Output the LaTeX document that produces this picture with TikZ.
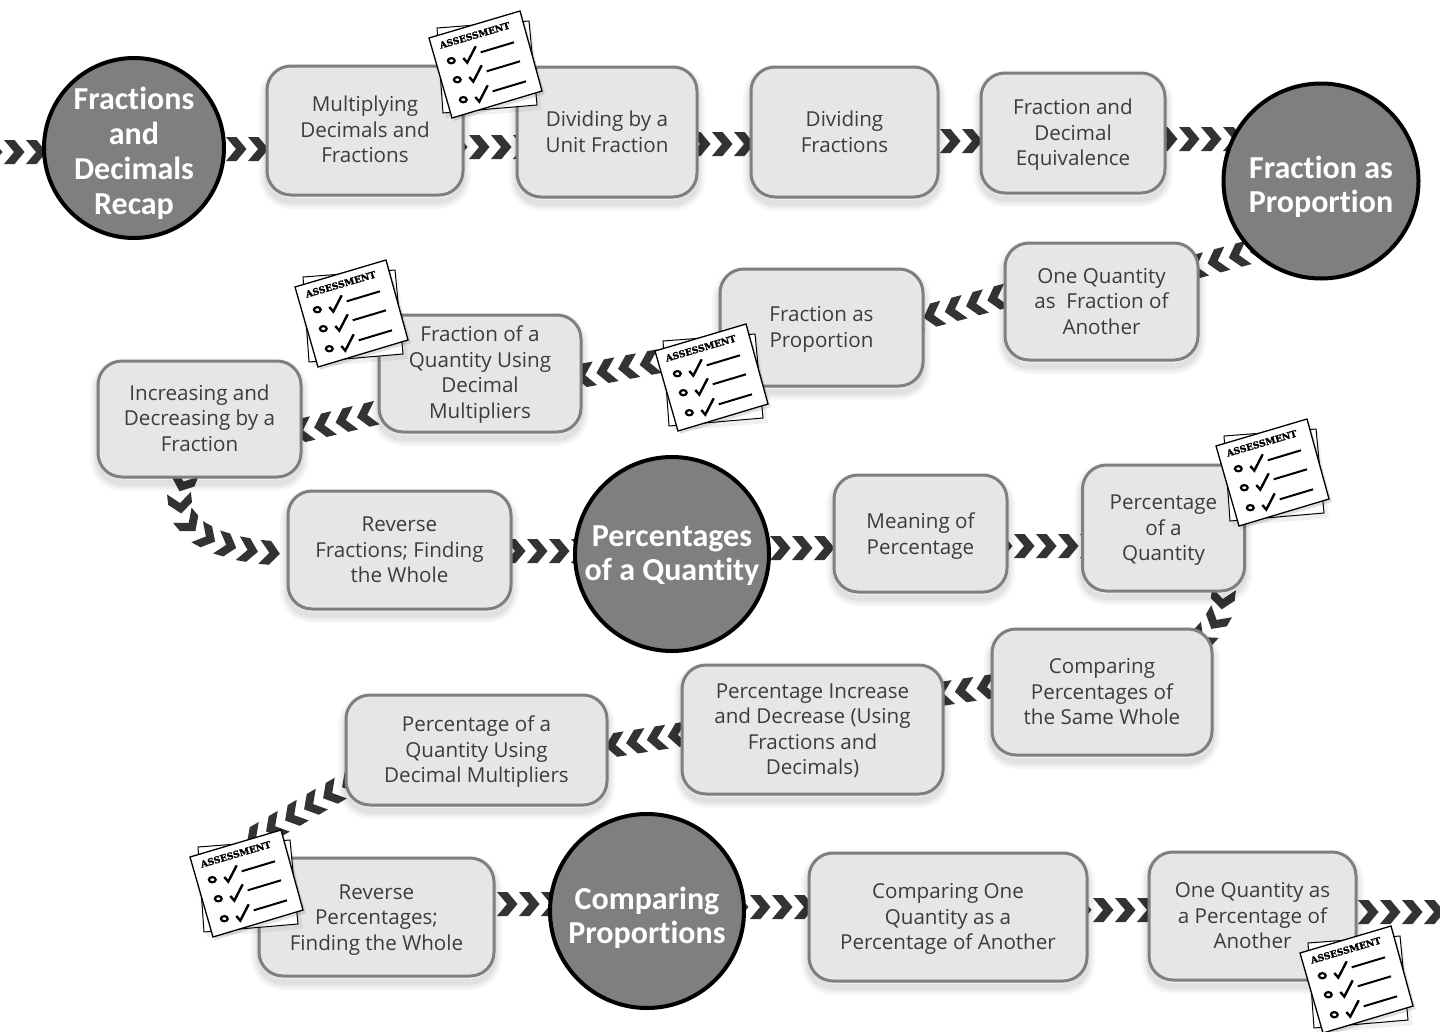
\documentclass[tikz,border=0pt]{standalone}
\usepackage{fontspec}
\setmainfont{Open Sans}
\newfontfamily\titlefont{Carlito}[Ligatures=NoCommon]
\newfontfamily\stampfont{DejaVu Serif}[FakeBold=1.6]
\usetikzlibrary{backgrounds,decorations.markings}
\definecolor{boxfill}{HTML}{E6E6E6}
\definecolor{boxline}{HTML}{7F7F7F}
\definecolor{chevcol}{HTML}{333333}
\definecolor{txt}{HTML}{3C3C3C}
\newcommand{\dn}[1]{\rule{0pt}{\dimexpr 16pt+#1pt\relax}}
\newcommand{\dnt}[1]{\rule{0pt}{\dimexpr 21pt+#1pt\relax}}
\newcommand{\upr}{\rule[-2.5pt]{0pt}{2.5pt}}
\tikzset{
  x=1pt,y=-1pt,
  softshadow/.style={
    preaction={draw=black,draw opacity=.03,line width=16pt,transform canvas={yshift=-6pt}},
    preaction={draw=black,draw opacity=.04,line width=11pt,transform canvas={yshift=-6pt}},
    preaction={draw=black,draw opacity=.05,line width=6pt,transform canvas={yshift=-6pt}}},
  topic/.style={draw=boxline,fill=boxfill,line width=3pt,rounded corners=24pt,inner sep=0pt,outer sep=0pt,
    align=center,text=txt,font=\fontsize{20.6}{25.5}\selectfont,softshadow},
  unit/.style={circle,draw=black,fill=boxline,line width=4pt,inner sep=-14pt,outer sep=0pt,align=center,
    text=white,font=\titlefont\bfseries\fontsize{32}{34.8}\selectfont},
  chev/.style 2 args={decoration={markings,mark=between positions #1pt and 1 step #2pt with {
     \fill[chevcol] (-10pt,-12pt)--(0.5pt,-12pt)--(10.5pt,0pt)--(0.5pt,12pt)--(-10pt,12pt)--(0pt,0pt)--cycle;}},
     postaction={decorate}},
  assess/.pic={
    \fill[black,opacity=.06] (2,1)--(102,-14)--(113,72)--(17,80)--cycle;
    \filldraw[fill=white,draw=black,line width=1pt] (8,-10)--(100,-17)--(108,67)--(14,75)--cycle;
    \fill[black,opacity=.12] (2,3)--(93,-24)--(116,56)--(25,83)--cycle;
    \filldraw[fill=white,draw=black,line width=1.3pt] (0,0)--(91,-27)--(113,53)--(23,80)--cycle;
    \node[rotate=16.3,inner sep=0pt,font=\stampfont\bfseries\fontsize{9.2}{10}\selectfont] (-stamp) at (45.7,-2.7) {ASSESSMENT};
    \foreach \dx/\dy in {0/0,6/19,12/39}{
      \begin{scope}[shift={(\dx,\dy)}]
        \draw[black,line width=2.2pt] (22.3,22.7) ellipse (3.4 and 2.6);
        \draw[black,line width=2.4pt,line join=miter] (34.3,20)--(38.3,24.6)--(46.7,8.3);
        \draw[black,line width=2pt] (51.7,14.3)--(85,4.3);
      \end{scope}}
  }
}
\begin{document}
\begin{tikzpicture}
\useasboundingbox (0,0) rectangle (1440,1031);
\coordinate (startpt) at (-30,152);
\coordinate (endpt) at (1455,912);

\node[unit,minimum size=180] (c1) at (134,148) {\dnt{12}Fractions\\and\\Decimals\\Recap};
\node[topic,minimum width=196,minimum height=129] (b2) at (365,130.5) {Multiplying\\Decimals and\\Fractions\upr};
\node[topic,minimum width=180,minimum height=130] (b3) at (607,132) {Dividing by a\\Unit Fraction};
\node[topic,minimum width=187,minimum height=130] (b4) at (844.5,132) {Dividing\\Fractions};
\node[topic,minimum width=184,minimum height=120] (b5) at (1073,133) {\dn{3}Fraction and\\Decimal\\Equivalence};
\node[unit,minimum size=195] (c2) at (1321,181) {\dnt{13}Fraction as\\Proportion};
\node[topic,minimum width=193,minimum height=117] (b6) at (1101.5,301.5) {One Quantity\\as\ \ Fraction of\\Another};
\node[topic,minimum width=203,minimum height=117] (b7) at (821.5,327.5) {\dn{3}Fraction as\\Proportion};
\node[topic,minimum width=202,minimum height=117] (b8) at (480,373.5) {\dn{2}Fraction of a\\Quantity Using\\Decimal\\Multipliers};
\node[topic,minimum width=203,minimum height=116] (b9) at (199.5,419) {Increasing and\\Decreasing by a\\Fraction\upr};
\node[topic,minimum width=223,minimum height=118] (b10) at (399.5,550) {Reverse\\Fractions; Finding\\the Whole};
\node[unit,minimum size=194] (c3) at (672,554) {\dnt{3}Percentages\\of a Quantity};
\node[topic,minimum width=173,minimum height=117] (b11) at (920.5,533.5) {\dn{5}Meaning of\\Percentage};
\node[topic,minimum width=162,minimum height=126] (b12) at (1163.5,528) {\dn{3}Percentage\\of a\\Quantity};
\node[topic,minimum width=220,minimum height=126] (b13) at (1102,692) {Comparing\\Percentages of\\the Same Whole};
\node[topic,minimum width=261,minimum height=129] (b14) at (812.5,729.5) {\dn{1}Percentage Increase\\and Decrease (Using\\Fractions and\\Decimals)};
\node[topic,minimum width=261,minimum height=110] (b15) at (476.5,750) {\dn{3}Percentage of a\\Quantity Using\\Decimal Multipliers};
\node[topic,minimum width=235,minimum height=118] (b16) at (376.5,917) {\dn{4}Reverse\\Percentages;\\Finding the Whole};
\node[unit,minimum size=194] (c4) at (647,911) {\dnt{15}Comparing\\Proportions};
\node[topic,minimum width=278,minimum height=128] (b17) at (948,917) {\dn{3}Comparing One\\Quantity as a\\Percentage of Another};
\node[topic,minimum width=207,minimum height=128] (b18) at (1252.5,916) {One Quantity as\\a Percentage of\\Another};

\begin{scope}[on background layer]
\path[chev={0}{22}] (startpt) -- ([yshift=-4pt]c1.center);
\path[chev={14}{22}] ([yshift=-1pt]c1.center) -- ([yshift=-18.5pt]b2.center);
\path[chev={4}{22}] ([yshift=-16.5pt]b2.center) -- ([yshift=-15pt]b3.center);
\path[chev={5}{22}] ([yshift=-12pt]b3.center) -- ([yshift=-12pt]b4.center);
\path[chev={17.5}{22}] ([yshift=-9pt]b4.center) -- ([yshift=-8pt]b5.center);
\path[chev={6}{22}] ([yshift=-6pt]b5.center) -- ([yshift=42pt]c2.center);
\path[chev={19}{22}] ([yshift=-52pt]c2.center) -- ([yshift=9.5pt]b6.center);
\path[chev={19.7}{22}] ([yshift=31.5pt]b6.center) -- ([yshift=-17.5pt]b7.center);
\path[chev={20.6}{22}] ([yshift=-3pt]b7.center) -- ([yshift=-21.5pt]b8.center);
\path[chev={6}{22}] ([yshift=-14.5pt]b8.center) -- ([yshift=-36pt]b9.center);
\path[chev={5}{22}] ([xshift=-14pt]b9.south) .. controls (168,512) and (188,550) .. ([yshift=-4pt]b10.west);
\path[chev={5.5}{22}] ([yshift=-1pt]b10.center) -- ([yshift=3pt]c3.center);
\path[chev={20}{22}] ([yshift=6pt]c3.center) -- ([yshift=-14.5pt]b11.center);
\path[chev={15.5}{22}] ([yshift=-12.5pt]b11.center) -- ([yshift=-18pt]b12.center);
\path[chev={15}{22}] ([xshift=60.5pt,yshift=7pt]b12.south) .. controls (1222,615) and (1222,618) .. ([xshift=88pt,yshift=-22pt]b13.north);
\path[chev={6.3}{22}] ([yshift=22pt]b13.center) -- ([yshift=16.5pt]b14.center);
\path[chev={10.3}{21}] ([yshift=16pt]b14.center) -- ([yshift=-17pt]b15.center);
\path[chev={13}{22}] ([yshift=41pt]b15.center) -- ([xshift=-121.5pt,yshift=79pt]b16.center);
\path[chev={20.5}{22}] ([yshift=13pt]b16.center) -- ([yshift=7pt]c4.center);
\path[chev={3}{22}] ([yshift=4pt]c4.center) -- ([yshift=10pt]b17.center);
\path[chev={1}{22}] ([yshift=7pt]b17.center) -- ([yshift=6pt]b18.center);
\path[chev={5.5}{22}] ([yshift=4pt]b18.center) -- (endpt);
\end{scope}

\pic (a1) at (429,38) {assess};
\pic (a2) at (295,287) {assess};
\pic (a3) at (655,351) {assess};
\pic (a4) at (1216,446) {assess};
\pic (a5) at (190,857) {assess};
\pic (a6) at (1300,953) {assess};
\end{tikzpicture}
\end{document}
